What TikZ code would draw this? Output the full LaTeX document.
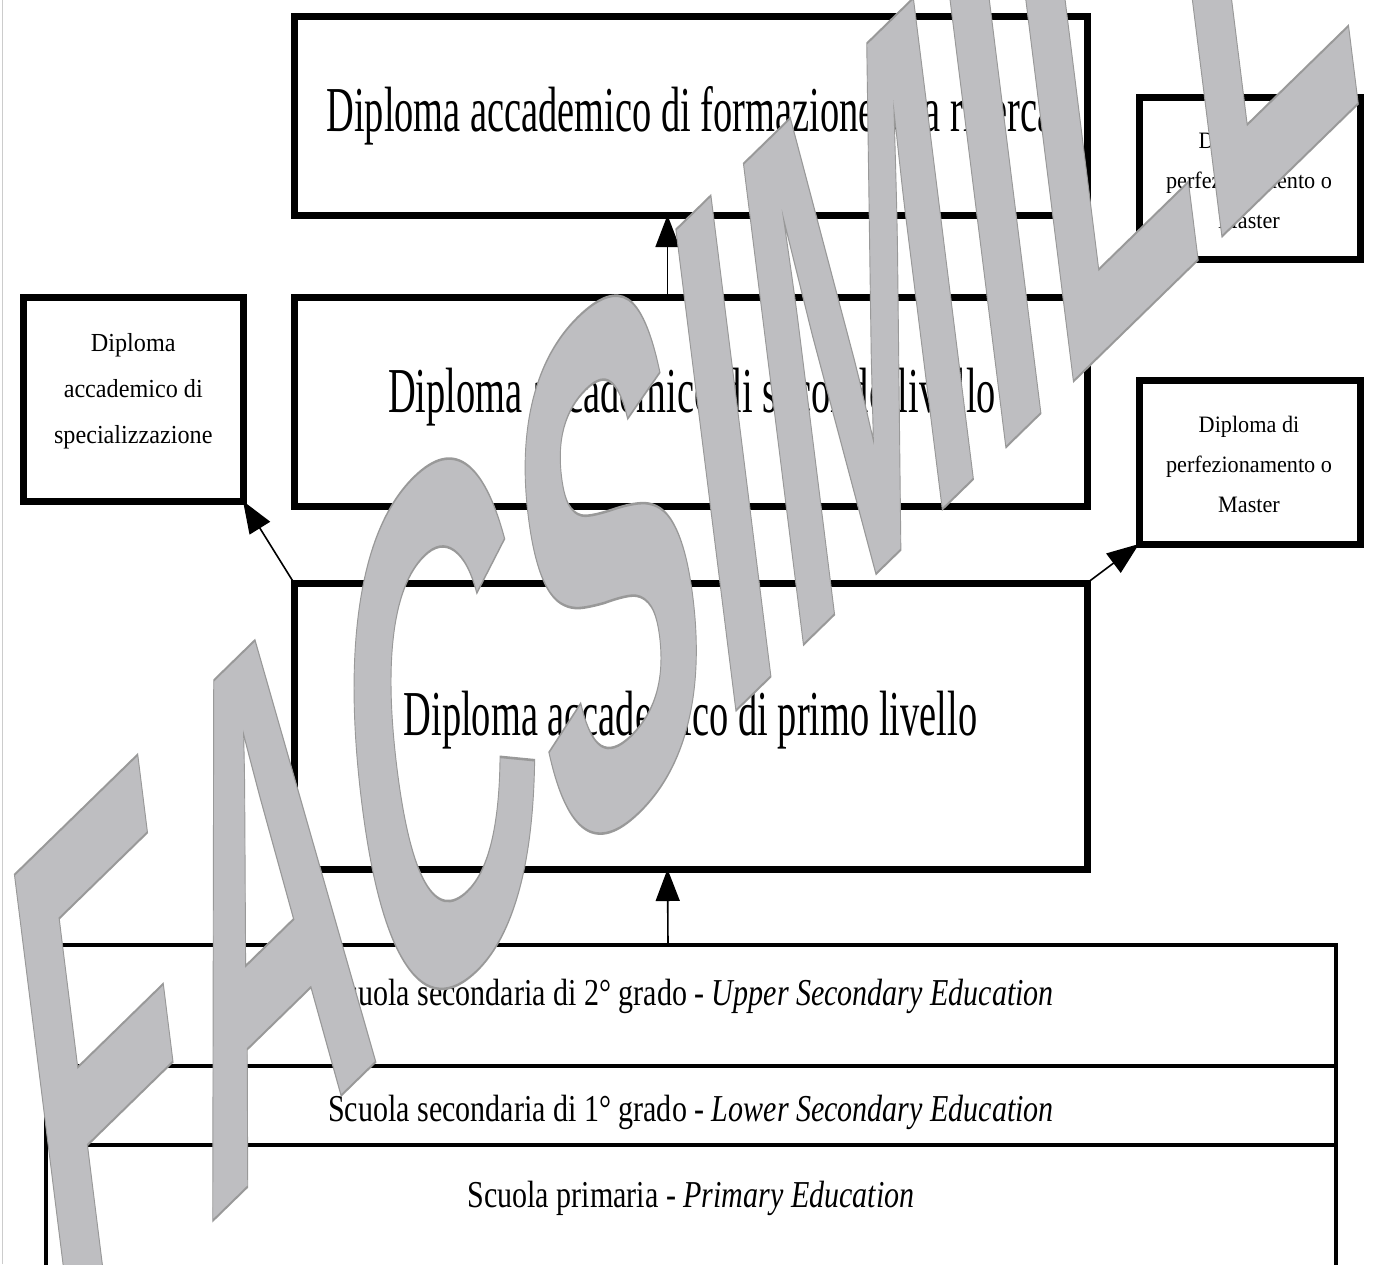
\documentclass[tikz,border=0pt]{standalone}
\usepackage{fontspec}
\usepackage{graphicx}
\setmainfont{Liberation Serif}
\newfontfamily\wmfont[Kerning=Off]{Liberation Sans}
\usetikzlibrary{arrows.meta}

\definecolor{wmgray}{RGB}{190,190,193}

% the scanned page has narrow type
\newcommand{\bigtext}[1]{\scalebox{0.6}[1]{\fontsize{64}{70}\selectfont #1}}
\newcommand{\rowtext}[1]{\scalebox{0.79}[1]{\fontsize{38}{44}\selectfont #1}}
\newcommand{\spectext}[1]{\scalebox{0.93}[1]{\fontsize{26}{46}\selectfont
  \begin{tabular}{@{}c@{}}#1\end{tabular}}}
\newcommand{\mastertext}[1]{\scalebox{0.945}[1]{\fontsize{23.5}{40}\selectfont
  \begin{tabular}{@{}c@{}}#1\end{tabular}}}

\begin{document}
\begin{tikzpicture}[x=1pt,y=-1pt,
  box/.style={draw,line width=7pt,inner sep=0pt,outer sep=0pt},
  row/.style={draw,line width=4pt,inner sep=0pt,outer sep=0pt,minimum width=1290pt},
  txt/.style={inner sep=0pt,outer sep=0pt},
  arr/.style={-{Triangle[width=24pt,length=32pt]},line width=1.6pt}]
\useasboundingbox (0,0) rectangle (1375,1264);
\draw[black!20,line width=1.5pt] (2.5,0) -- (2.5,1264); % page edge

%
% diplomi
%
\node[box,minimum width=793pt,minimum height=199pt] (ricerca) at (690.5,115.5) {};
\node[box,minimum width=793pt,minimum height=209pt] (secondo) at (690.5,401.5) {};
\node[box,minimum width=793pt,minimum height=286pt] (primo) at (690.5,726) {};
\node[box,minimum width=219.5pt,minimum height=204pt] (spec) at (133.25,399) {};
\node[box,minimum width=221pt,minimum height=162pt] (masterA) at (1249.5,178) {};
\node[box,minimum width=221pt,minimum height=164pt] (masterB) at (1249.5,462) {};

\node[txt,anchor=base] (ricercaT) at (690.5,131) {\bigtext{Diploma accademico di formazione alla ricerca}};
\node[txt,anchor=base] (secondoT) at (692,412) {\bigtext{Diploma accademico di secondo livello}};
\node[txt,anchor=base] (primoT) at (690.5,735) {\bigtext{Diploma accademico di primo livello}};
\node[txt] (specT) at (133.25,388) {\spectext{Diploma\\accademico di\\specializzazione}};
\node[txt] (masterAT) at (1249,180) {\mastertext{Diploma di\\perfezionamento o\\Master}};
\node[txt] (masterBT) at (1249,464) {\mastertext{Diploma di\\perfezionamento o\\Master}};

%
% scuola
%
\node[row,minimum height=121pt] (upper) at (691,1005.5) {};
\node[row,minimum height=79pt] (lower) at (691,1105.5) {};
\node[row,minimum height=150pt] (primary) at (691,1220) {};
\node[txt,anchor=base] (upperT) at (691,1005) {\rowtext{Scuola secondaria di 2° grado - \textit{Upper Secondary Education}}};
\node[txt,anchor=base] (lowerT) at (691,1121) {\rowtext{Scuola secondaria di 1° grado - \textit{Lower Secondary Education}}};
\node[txt,anchor=base] (primaryT) at (691,1207) {\rowtext{Scuola primaria - \textit{Primary Education}}};

\draw[arr] ([xshift=-23pt]upper.north) -- ([xshift=-23pt]primo.south);
\draw[arr] ([xshift=-23pt]secondo.north) -- ([xshift=-23pt]ricerca.south);
\draw[arr] (primo.north west) -- (spec.south east);
\draw[arr] (primo.north east) -- (masterB.south west);

%
% watermark
%
\begin{scope}[shift={(58.2,1371.5)},cm={2.43,2.37,-0.872,6.99,(0,0)}]
\node[txt,anchor=base west,transform shape,text=wmgray] (wm) at (0,0)
  {\wmfont\bfseries\fontsize{100}{100}\selectfont
   \special{pdf:literal direct q 2 Tr 0.35 w 0.6 0.6 0.6 RG}FACSIMILE\special{pdf:literal direct Q}};
\end{scope}

\end{tikzpicture}
\end{document}
